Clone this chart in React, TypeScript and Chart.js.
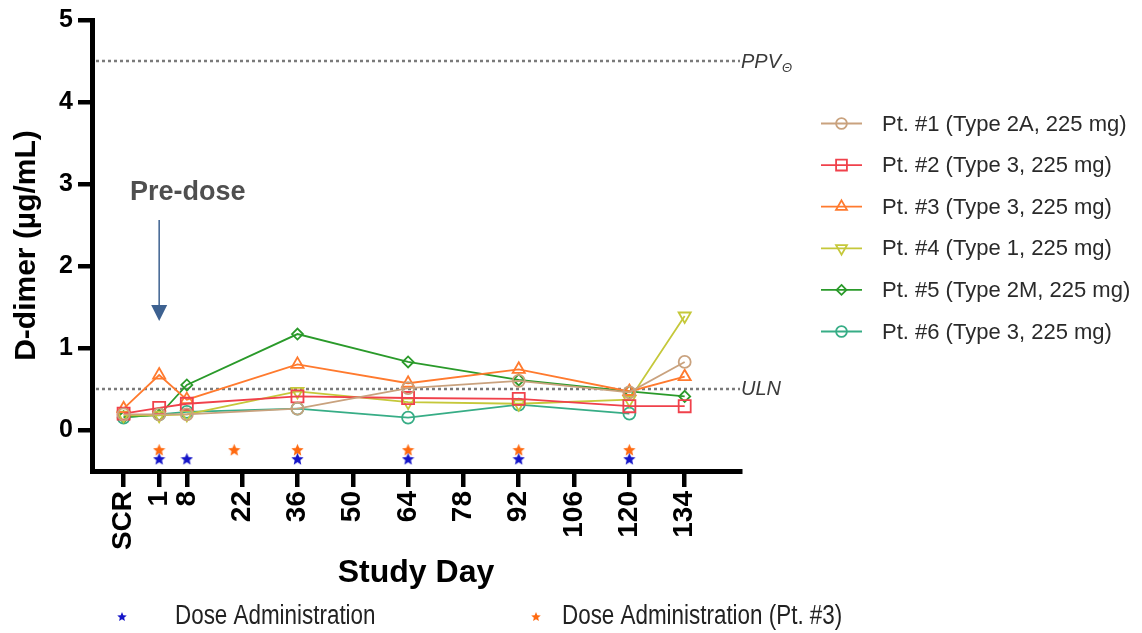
import React, { useEffect, useRef } from "react";
import { Chart, registerables } from "chart.js";

Chart.register(...registerables);

// ---- Data ----
const studyDays = [-8, 1, 8, 36, 64, 92, 120, 134];
const tickDays = [-8, 1, 8, 22, 36, 50, 64, 78, 92, 106, 120, 134];
const tickLabels = ["SCR", "1", "8", "22", "36", "50", "64", "78", "92", "106", "120", "134"];

const seriesNames = [
  "Pt. #1 (Type 2A, 225 mg)",
  "Pt. #2 (Type 3, 225 mg)",
  "Pt. #3 (Type 3, 225 mg)",
  "Pt. #4 (Type 1, 225 mg)",
  "Pt. #5 (Type 2M, 225 mg)",
  "Pt. #6 (Type 3, 225 mg)",
];
const pt1 = [0.19, 0.19, 0.19, 0.26, 0.51, 0.6, 0.46, 0.83];
const pt2 = [0.2, 0.27, 0.32, 0.41, 0.39, 0.38, 0.29, 0.29];
const pt3 = [0.26, 0.67, 0.37, 0.8, 0.57, 0.74, 0.47, 0.65];
const pt4 = [0.18, 0.18, 0.19, 0.47, 0.34, 0.32, 0.37, 1.39];
const pt5 = [0.16, 0.18, 0.55, 1.17, 0.83, 0.61, 0.47, 0.41];
const pt6 = [0.15, 0.19, 0.22, 0.26, 0.15, 0.31, 0.2, null];

const doseDays = [1, 8, 36, 64, 92, 120];
const doseLevel = -0.35;
const dosePt3Days = [1, 20, 36, 64, 92, 120];
const dosePt3Level = -0.24;

const uln = 0.5;
const ppv = 4.5;
const yTicks = [0, 1, 2, 3, 4, 5];

const colors = ["#C9A27E", "#F0414B", "#FF7A2E", "#C5C83A", "#2A9A2A", "#37AD86"];
const styles = ["circle", "rect", "triangle", "triangle", "rectRot", "circle"];
const rotations = [0, 0, 0, 180, 0, 0];
const radii = [6, 8.5, 7, 7, 5.5, 6];
const blueStar = "#1515C8";
const orangeStar = "#FF6A10";

const FONT = "'Liberation Sans', Arial, sans-serif";

function starPath(ctx: CanvasRenderingContext2D, cx: number, cy: number, R: number) {
  const r = R * 0.45;
  ctx.beginPath();
  for (let i = 0; i < 10; i++) {
    const a = -Math.PI / 2 + (i * Math.PI) / 5;
    const rr = i % 2 === 0 ? R : r;
    const px = cx + rr * Math.cos(a);
    const py = cy + rr * Math.sin(a);
    if (i === 0) ctx.moveTo(px, py);
    else ctx.lineTo(px, py);
  }
  ctx.closePath();
}

function makeStar(color: string, size: number) {
  const c = document.createElement("canvas");
  c.width = size;
  c.height = size;
  const ctx = c.getContext("2d")!;
  ctx.fillStyle = color;
  starPath(ctx, size / 2, size / 2 + size * 0.05, size / 2);
  ctx.fill();
  return c;
}

function drawMarker(ctx: CanvasRenderingContext2D, style: string, rot: number, r: number, x: number, y: number, color: string) {
  ctx.save();
  ctx.strokeStyle = color;
  ctx.lineWidth = 1.8;
  ctx.translate(x, y);
  ctx.rotate((rot * Math.PI) / 180);
  ctx.beginPath();
  if (style === "circle") {
    ctx.arc(0, 0, r, 0, Math.PI * 2);
  } else if (style === "rect") {
    const s = r / Math.SQRT2;
    ctx.rect(-s, -s, 2 * s, 2 * s);
  } else if (style === "triangle") {
    ctx.moveTo(0, -r);
    ctx.lineTo(r * Math.sin(Math.PI * 2 / 3), -r * Math.cos(Math.PI * 2 / 3));
    ctx.lineTo(-r * Math.sin(Math.PI * 2 / 3), -r * Math.cos(Math.PI * 2 / 3));
    ctx.closePath();
  } else if (style === "rectRot") {
    ctx.moveTo(0, -r);
    ctx.lineTo(r, 0);
    ctx.lineTo(0, r);
    ctx.lineTo(-r, 0);
    ctx.closePath();
  }
  ctx.stroke();
  ctx.restore();
}

const annotationPlugin = {
  id: "annotations",
  beforeDatasetsDraw(chart: any) {
    const { ctx, chartArea, scales } = chart;
    const y = scales.y;
    ctx.save();
    ctx.strokeStyle = "#7a7a7a";
    ctx.lineWidth = 2.5;
    ctx.setLineDash([3, 3]);
    [ppv, uln].forEach((v) => {
      const py = y.getPixelForValue(v);
      ctx.beginPath();
      ctx.moveTo(chartArea.left + 4, py);
      ctx.lineTo(chartArea.right, py);
      ctx.stroke();
    });
    ctx.restore();
  },
  afterDraw(chart: any) {
    const { ctx, chartArea, scales } = chart;
    const y = scales.y;
    const x = scales.x;
    ctx.save();
    // reference line labels
    ctx.fillStyle = "#3a3a3a";
    ctx.textBaseline = "alphabetic";
    ctx.textAlign = "left";
    ctx.font = `italic 20px ${FONT}`;
    const pY = y.getPixelForValue(ppv);
    ctx.fillText("PPV", chartArea.right + 1, pY + 7);
    const w = ctx.measureText("PPV").width;
    ctx.font = `italic 13px ${FONT}`;
    ctx.fillText("\u0398", chartArea.right + 2 + w, pY + 11);
    ctx.font = `italic 20px ${FONT}`;
    const uY = y.getPixelForValue(uln);
    ctx.fillText("ULN", chartArea.right + 1, uY + 6);

    // Pre-dose annotation
    const ax = x.getPixelForValue(1);
    ctx.fillStyle = "#4f4f4f";
    ctx.font = `bold 27px ${FONT}`;
    ctx.fillText("Pre-dose", 130, 200);
    ctx.strokeStyle = "#3D6190";
    ctx.fillStyle = "#3D6190";
    ctx.lineWidth = 1.5;
    ctx.beginPath();
    ctx.moveTo(ax, 220);
    ctx.lineTo(ax, 306);
    ctx.stroke();
    ctx.beginPath();
    ctx.moveTo(ax - 8, 305);
    ctx.lineTo(ax + 8, 305);
    ctx.lineTo(ax, 321);
    ctx.closePath();
    ctx.fill();

    // right legend
    const lx0 = 821;
    const lx1 = 862;
    const ly0 = 123.5;
    const dy = 41.6;
    ctx.font = `22px ${FONT}`;
    ctx.textBaseline = "middle";
    for (let i = 0; i < seriesNames.length; i++) {
      const ly = ly0 + i * dy;
      ctx.strokeStyle = colors[i];
      ctx.lineWidth = 1.8;
      ctx.beginPath();
      ctx.moveTo(lx0, ly);
      ctx.lineTo(lx1, ly);
      ctx.stroke();
      drawMarker(ctx, styles[i], rotations[i], radii[i] * 0.9, (lx0 + lx1) / 2, ly, colors[i]);
      ctx.fillStyle = "#2a2a2a";
      ctx.fillText(seriesNames[i], 882, ly + 1);
    }

    // bottom legend
    const by = 617;
    ctx.fillStyle = blueStar;
    starPath(ctx, 122, by, 5);
    ctx.fill();
    ctx.fillStyle = orangeStar;
    starPath(ctx, 536, by, 5);
    ctx.fill();
    ctx.fillStyle = "#222";
    ctx.font = `27px ${FONT}`;
    ctx.textBaseline = "middle";
    ctx.save();
    ctx.translate(175, by);
    ctx.scale(0.83, 1);
    ctx.fillText("Dose Administration", 0, 0);
    ctx.restore();
    ctx.save();
    ctx.translate(562, by);
    ctx.scale(0.83, 1);
    ctx.fillText("Dose Administration (Pt. #3)", 0, 0);
    ctx.restore();
    ctx.restore();
  },
};

export default function App() {
  const ref = useRef<HTMLCanvasElement | null>(null);

  useEffect(() => {
    if (!ref.current) return;
    const series = [pt1, pt2, pt3, pt4, pt5, pt6];
    const datasets: any[] = series.map((vals, i) => ({
      label: seriesNames[i],
      data: studyDays
        .map((d, j) => ({ x: d, y: vals[j] }))
        .filter((p) => p.y !== null),
      showLine: true,
      borderColor: colors[i],
      borderWidth: 1.8,
      pointStyle: styles[i],
      pointRotation: rotations[i],
      pointRadius: radii[i],
      pointBorderWidth: 1.8,
      pointBorderColor: colors[i],
      pointBackgroundColor: "rgba(255,255,255,0)",
      fill: false,
      tension: 0,
    }));
    const blueImg = makeStar(blueStar, 13);
    const orangeImg = makeStar(orangeStar, 13);
    datasets.push({
      label: "Dose Administration",
      data: doseDays.map((d) => ({ x: d, y: doseLevel })),
      showLine: false,
      pointStyle: blueImg,
      pointRadius: 7,
    });
    datasets.push({
      label: "Dose Administration (Pt. #3)",
      data: dosePt3Days.map((d) => ({ x: d, y: dosePt3Level })),
      showLine: false,
      pointStyle: orangeImg,
      pointRadius: 7,
    });

    const chart = new Chart(ref.current, {
      type: "scatter",
      data: { datasets },
      options: {
        responsive: false,
        animation: false,
        events: [],
        layout: { padding: { left: 0, top: 17, right: 1142 - 740, bottom: 0 } },
        plugins: { legend: { display: false }, tooltip: { enabled: false } },
        scales: {
          x: {
            type: "linear",
            position: "bottom",
            min: -16,
            max: 148,
            afterBuildTicks: (s: any) => {
              s.ticks = tickDays.map((v) => ({ value: v }));
            },
            afterFit: (s: any) => {
              s.height = 633 - 471;
            },
            ticks: {
              autoSkip: false,
              minRotation: 90,
              maxRotation: 90,
              padding: 4,
              color: "#000",
              font: { family: FONT, size: 28, weight: "bold" },
              callback: (_v: any, i: number) => tickLabels[i],
            },
            grid: {
              display: true,
              drawOnChartArea: false,
              drawTicks: true,
              tickLength: 16,
              lineWidth: 4.5,
              color: "#000",
            },
            border: { display: true, color: "#000", width: 5 },
            title: {
              display: true,
              text: "Study Day",
              color: "#000",
              font: { family: FONT, size: 32, weight: "bold" },
              padding: { top: 0, bottom: 41 },
            },
          },
          y: {
            type: "linear",
            min: -0.5,
            max: 5,
            afterBuildTicks: (s: any) => {
              s.ticks = yTicks.map((v) => ({ value: v }));
            },
            afterFit: (s: any) => {
              s.width = 92;
            },
            ticks: {
              padding: 5,
              color: "#000",
              font: { family: FONT, size: 25, weight: "bold" },
            },
            grid: {
              display: true,
              drawOnChartArea: false,
              drawTicks: true,
              tickLength: 14,
              lineWidth: 4.5,
              color: "#000",
            },
            border: { display: true, color: "#000", width: 5 },
            title: {
              display: true,
              text: "D-dimer (\u00b5g/mL)",
              color: "#000",
              font: { family: FONT, size: 30, weight: "bold" },
              padding: { top: 9, bottom: 0 },
            },
          },
        },
      },
      plugins: [annotationPlugin],
    });
    return () => chart.destroy();
  }, []);

  return (
    <div style={{ position: "absolute", left: 0, top: 0, width: 1142, height: 633, background: "#fff" }}>
      <canvas ref={ref} width={1142} height={633} style={{ display: "block" }} />
    </div>
  );
}
